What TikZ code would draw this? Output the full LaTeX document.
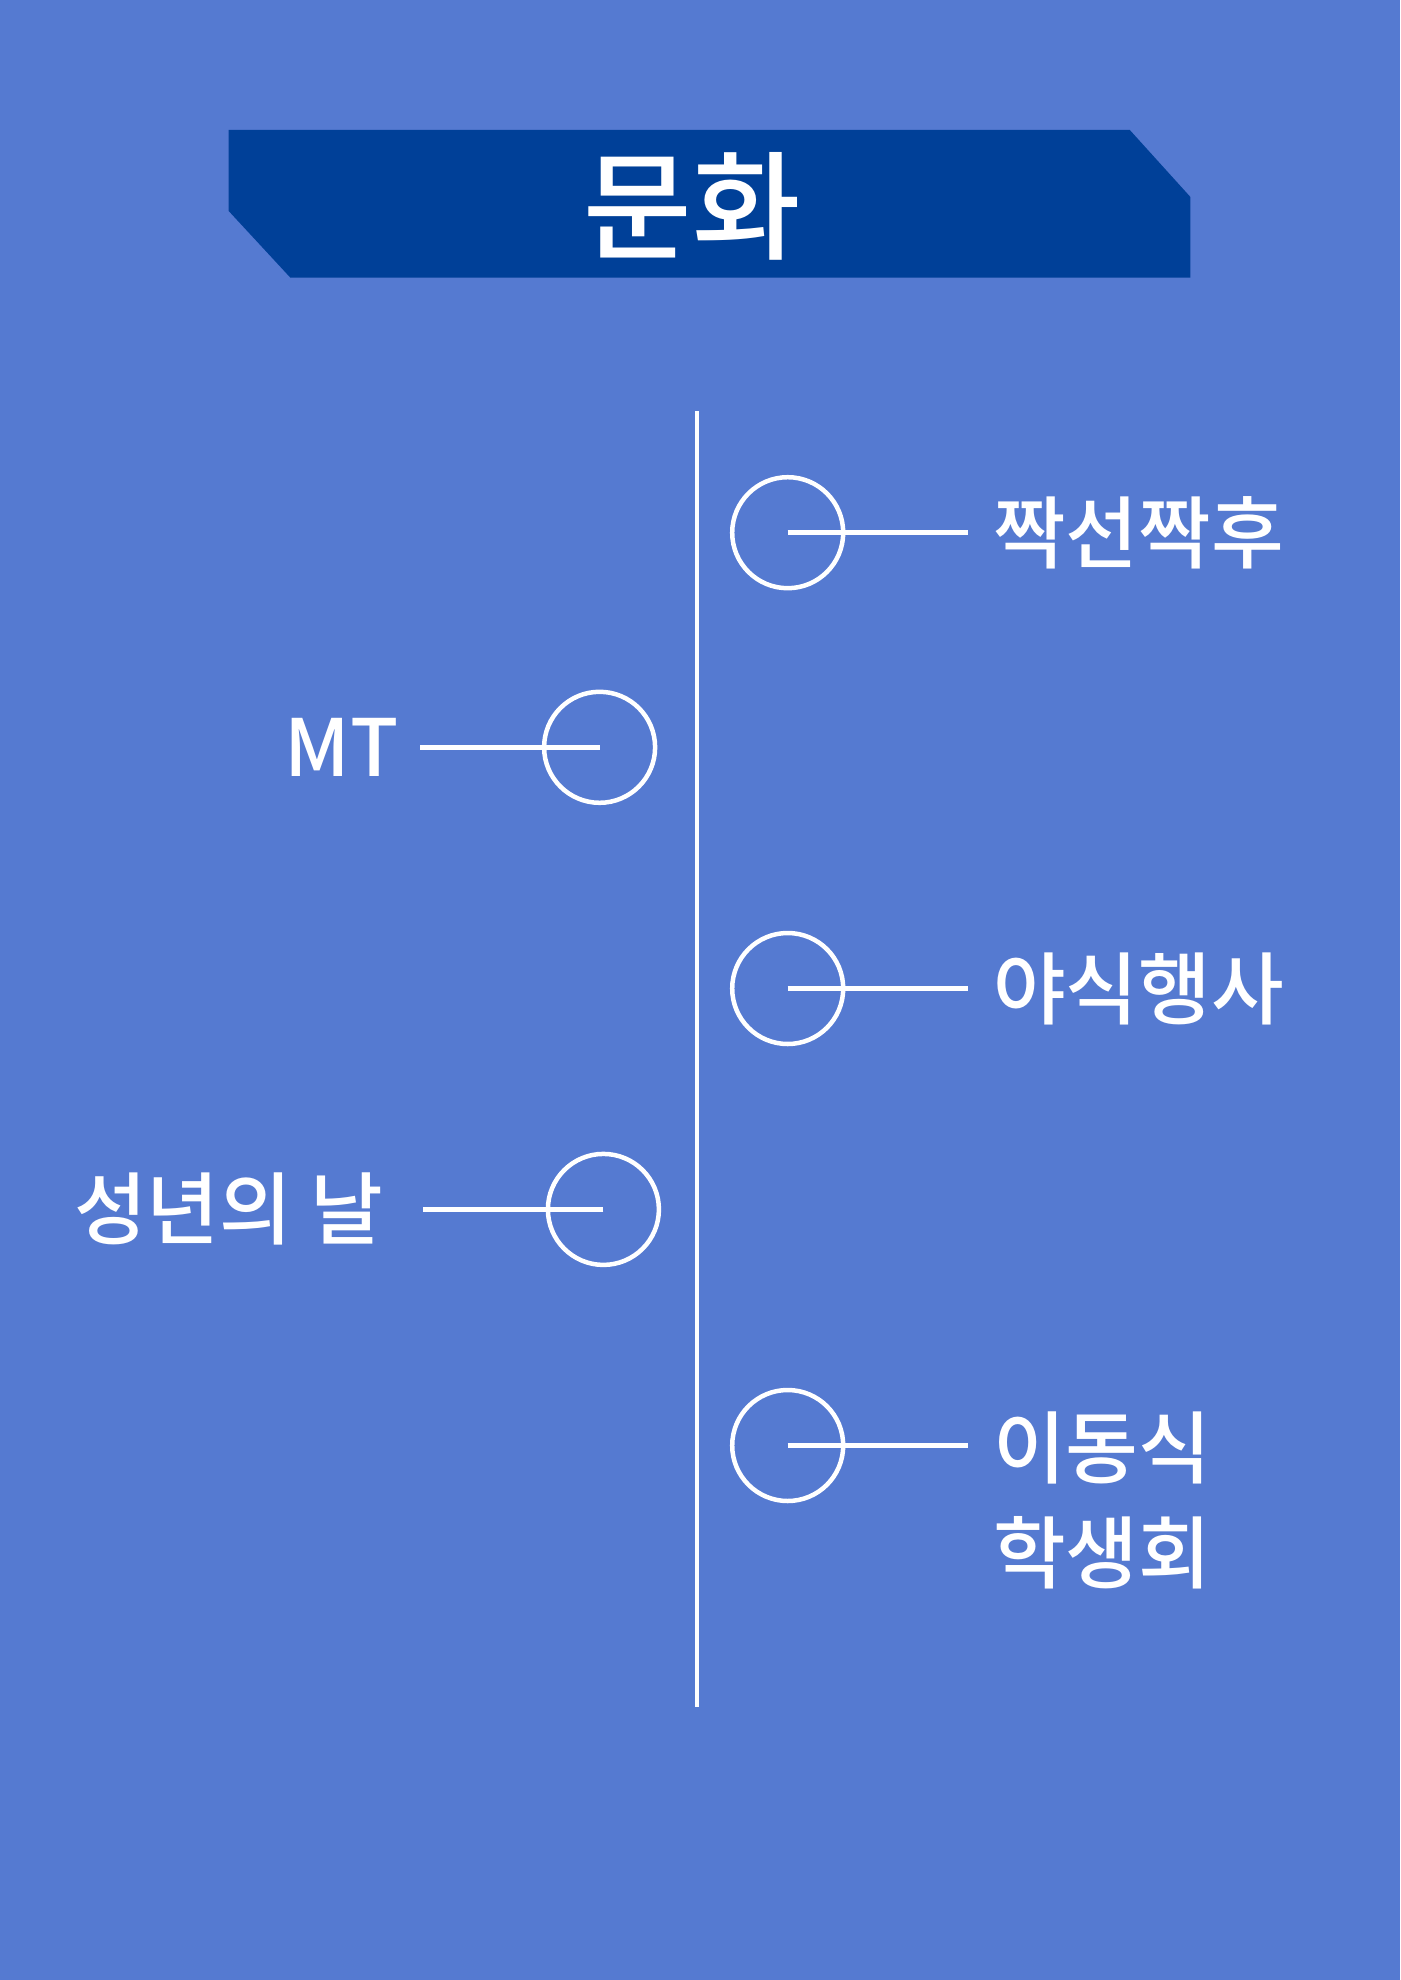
\documentclass[tikz,border=0pt]{standalone}
\usepackage{fontspec}
\setmainfont{Noto Sans CJK KR Medium}
\definecolor{bgblue}{RGB}{85,122,209}
\definecolor{bannerblue}{RGB}{0,64,152}
\begin{document}
\begin{tikzpicture}[x=1pt,y=-1pt,
  ring/.style={circle,draw=white,line width=4.5pt,minimum size=111pt,inner sep=0pt},
  conn/.style={draw=white,line width=4.5pt},
  rlabel/.style={anchor=west,text=white,font=\fontsize{79}{95}\selectfont,inner ysep=0pt,inner xsep=25pt},
  llabel/.style={anchor=east,text=white,font=\fontsize{79}{95}\selectfont,inner ysep=0pt}]
\fill[bgblue] (0,0) rectangle (1400,1980);
\useasboundingbox (0,0) rectangle (1400,1980);
% banner
\fill[bannerblue] (228.5,130) -- (1129.8,130) -- (1190.4,197) -- (1190.4,277.7) -- (290.4,277.7) -- (228.5,210.8) -- cycle;
\node[text=white,font=\fontsize{118}{130}\selectfont] (title) at (692,206) {문화};
% timeline
\coordinate (ttop) at (697,411);
\coordinate (tbot) at (697,1707);
\draw[white,line width=4.5pt] (ttop) -- (tbot);
% items
\node[ring] (c1) at (787.7,532.7) {};
\node[rlabel] (l1) at (968,532.7) {짝선짝후};
\draw[conn] (c1.center) -- (c1.center -| l1.west);

\node[ring] (c2) at (599.6,747.3) {};
\node[llabel,inner xsep=21pt] (l2) at (420,747.3) {MT};
\draw[conn] (c2.center) -- (c2.center -| l2.east);

\node[ring] (c3) at (787.7,988.5) {};
\node[rlabel] (l3) at (968,988.5) {야식행사};
\draw[conn] (c3.center) -- (c3.center -| l3.west);

\node[ring] (c4) at (603.4,1209.4) {};
\node[llabel,inner xsep=40pt] (l4) at (423,1209.4) {성년의 날};
\draw[conn] (c4.center) -- (c4.center -| l4.east);

\node[ring] (c5) at (787.7,1445.5) {};
\node[rlabel] (l5) at (968,1448) {이동식};
\node[rlabel] (l5b) at (968,1553) {학생회};
\draw[conn] (c5.center) -- (c5.center -| l5.west);
\end{tikzpicture}
\end{document}
